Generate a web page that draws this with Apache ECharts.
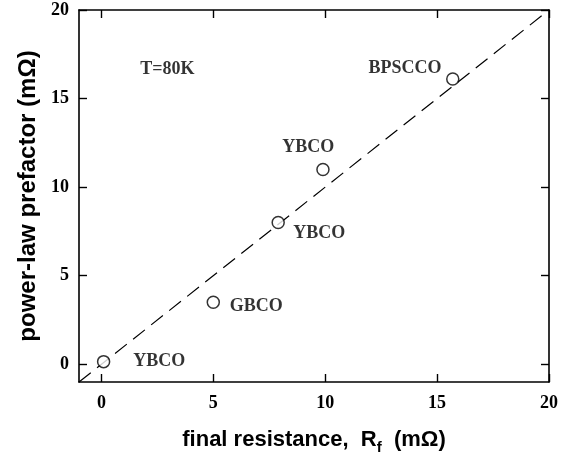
<!DOCTYPE html>
<html><head><meta charset="utf-8">
<script src="https://cdn.jsdelivr.net/npm/echarts@6/dist/echarts.min.js"></script>
<style>html,body{margin:0;padding:0;background:#fff}#c{width:565px;height:460px}</style>
</head><body><div id="c"></div>
<script>
// data
const finalResistance = [0.1, 5.0, 7.9, 9.9, 15.7];
const powerLawPrefactor = [0.15, 3.5, 8.0, 11.0, 16.1];
const fitX = [-1, 20];
const fitY = [-1, 20];
const tickValues = [0, 5, 10, 15, 20];
const labelTexts = ['YBCO', 'GBCO', 'YBCO', 'YBCO', 'BPSCCO', 'T=80K'];
const labelX = [2.59, 6.92, 9.73, 9.24, 13.57, 2.95];
const labelY = [0.17, 3.27, 7.39, 12.24, 16.7, 16.64];

const SERIF = '"Liberation Serif","Times New Roman",serif';
const SANS = '"Liberation Sans",Arial,sans-serif';
const AX_MIN = -1, AX_MAX = 20;

function makeAxis(pos, isX, showLabel, name) {
  const a = {
    type: 'value', position: pos, min: AX_MIN, max: AX_MAX,
    splitLine: { show: false },
    axisLine: { show: true, onZero: false, lineStyle: { color: '#000', width: 1.6 } },
    axisTick: { show: true, inside: true, length: 8, customValues: tickValues, lineStyle: { color: '#000', width: 1.4 } },
    axisLabel: { show: showLabel, customValues: tickValues, color: '#000', fontFamily: SERIF, fontWeight: 'bold', fontSize: 18, margin: isX ? 12 : 10 },
    minorTick: { show: false }
  };
  if (name) {
    a.name = name;
    a.nameLocation = 'middle';
    if (isX) {
      a.nameGap = 42;
      a.nameTextStyle = {
        rich: {
          a: { fontFamily: SANS, fontWeight: 'bold', fontSize: 22, color: '#000' },
          sub: { fontFamily: SANS, fontWeight: 'bold', fontSize: 15, color: '#000', padding: [16, 0, 0, 0] }
        }
      };
    } else {
      a.nameGap = 39;
      a.nameRotate = 90;
      a.nameTextStyle = { fontFamily: SANS, fontWeight: 'bold', fontSize: 24, color: '#000' };
    }
  }
  return a;
}

const chart = echarts.init(document.getElementById('c'), null, { renderer: 'canvas' });
chart.setOption({
  backgroundColor: '#fff',
  animation: false,
  grid: { left: 79, right: 16, top: 10, bottom: 78, containLabel: false },
  xAxis: [
    makeAxis('bottom', true, true, '{a|final resistance,  R}{sub|f}{a|  (mΩ)}'),
    makeAxis('top', true, false, null)
  ],
  yAxis: [
    makeAxis('left', false, true, 'power-law prefactor (mΩ)'),
    makeAxis('right', false, false, null)
  ],
  series: [
    {
      type: 'line', data: fitX.map((x, i) => [x, fitY[i]]),
      symbol: 'none', silent: true, z: 1,
      lineStyle: { color: '#000', width: 1.2, type: [15, 8] }
    },
    {
      type: 'scatter', data: finalResistance.map((x, i) => [x, powerLawPrefactor[i]]),
      symbol: 'circle', symbolSize: 12, z: 3,
      itemStyle: { color: '#fff', borderColor: '#000', borderWidth: 1.5 }
    },
    {
      type: 'scatter', data: labelX.map((x, i) => ({ value: [x, labelY[i]], name: labelTexts[i] })),
      symbolSize: 0, z: 4, silent: true,
      label: { show: true, position: 'inside', formatter: p => p.name, color: '#000', fontFamily: SERIF, fontWeight: 'bold', fontSize: 18 }
    }
  ]
});
</script></body></html>
